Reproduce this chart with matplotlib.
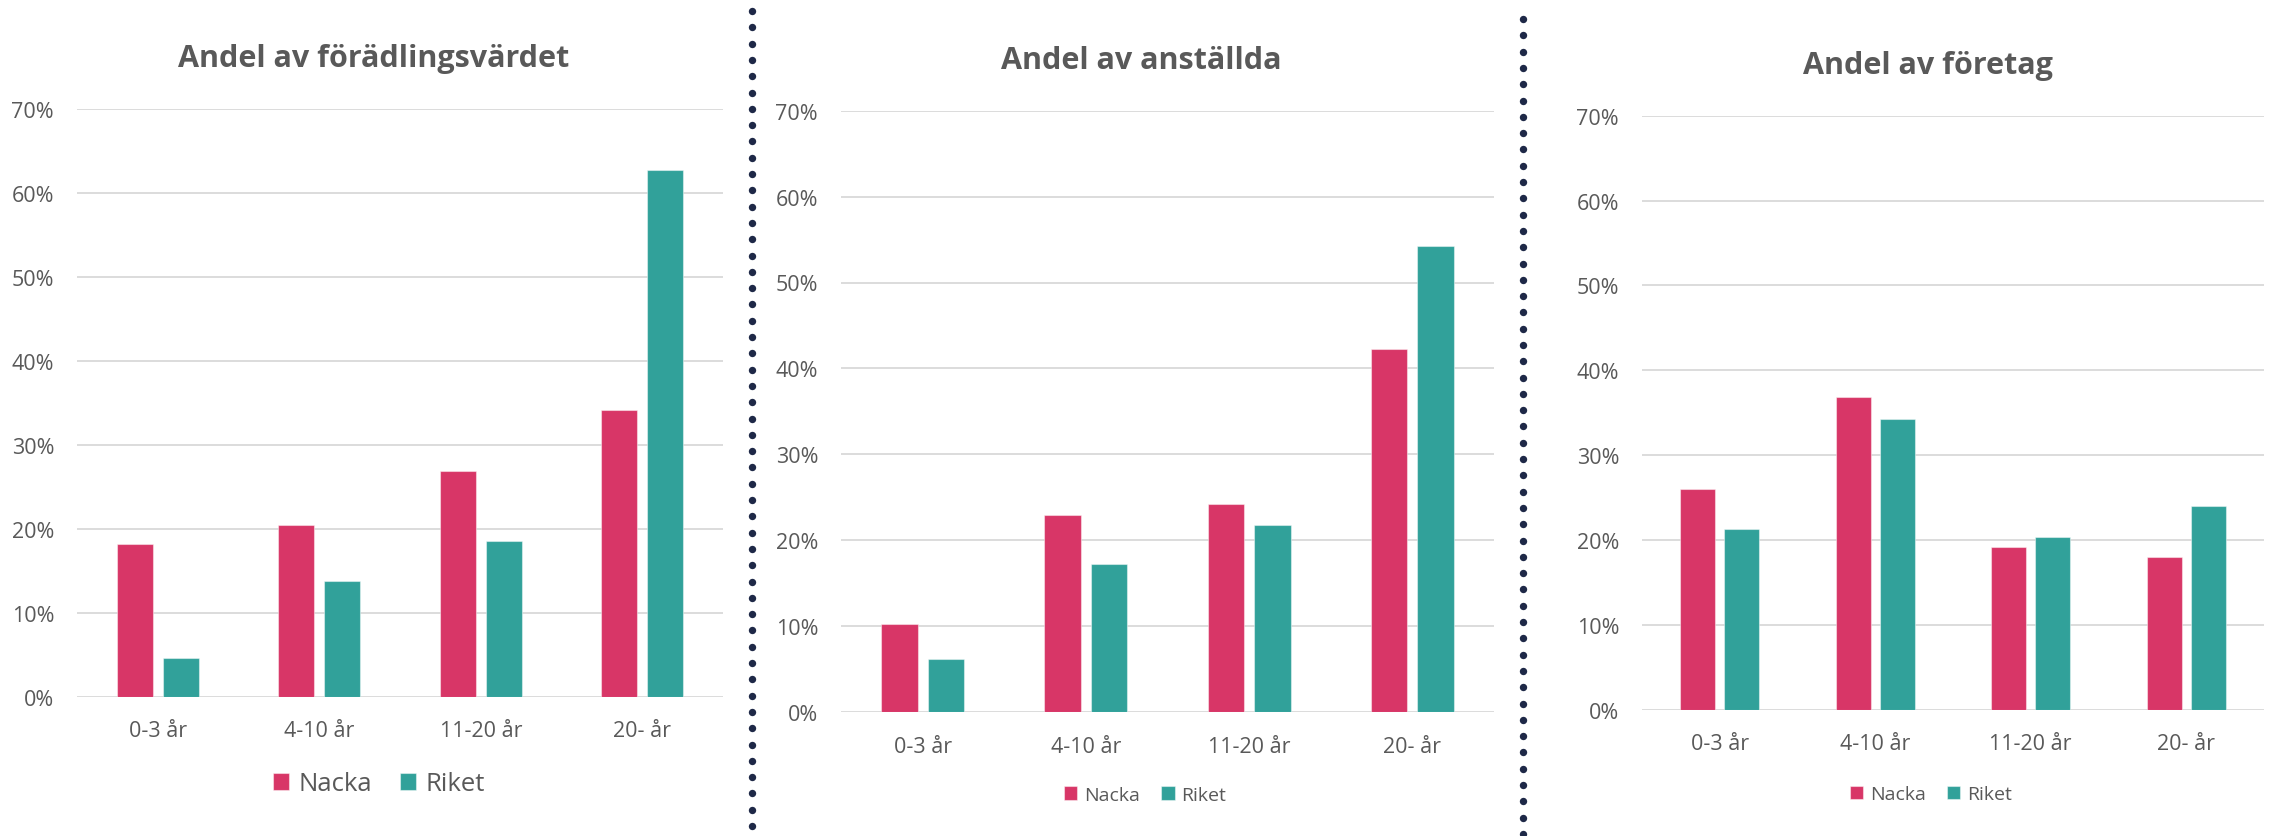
import matplotlib
matplotlib.use("Agg")
import matplotlib.pyplot as plt
from matplotlib.lines import Line2D
from matplotlib.ticker import FuncFormatter, MultipleLocator
import numpy as np

plt.rcParams["font.family"] = ["Open Sans", "DejaVu Sans"]

# Age groups of companies and the two compared series
categories = ["0-3 år", "4-10 år", "11-20 år", "20- år"]
series_names = ["Nacka", "Riket"]

# Share (%) of value added
vardet_nacka = [18.2, 20.5, 26.9, 34.2]
vardet_riket = [4.6, 13.8, 18.6, 62.7]

# Share (%) of employees
anstallda_nacka = [10.2, 22.9, 24.2, 42.3]
anstallda_riket = [6.2, 17.2, 21.8, 54.3]

# Share (%) of companies
foretag_nacka = [26.0, 36.8, 19.2, 18.0]
foretag_riket = [21.3, 34.2, 20.3, 24.0]

titles = ["Andel av förädlingsvärdet", "Andel av anställda", "Andel av företag"]

NACKA_COLOR = "#D83667"
RIKET_COLOR = "#31A19A"
TEXT_COLOR = "#595959"
GRID_COLOR = "#D9D9D9"
DIVIDER_COLOR = "#1E2847"

W, H = 2272, 837
fig = plt.figure(figsize=(W / 100, H / 100), dpi=100)


def px_rect(left, top, right, bottom):
    return [left / W, 1 - bottom / H, (right - left) / W, (bottom - top) / H]


panels = [
    dict(rect=(77, 110, 723, 698), nacka=vardet_nacka, riket=vardet_riket,
         title=titles[0], title_xy=(374, 66.7), legend_xy=(379, 785),
         legend_size=18.5, handle=0.62, xpad=16.5),
    dict(rect=(841, 111.7, 1494, 713), nacka=anstallda_nacka, riket=anstallda_riket,
         title=titles[1], title_xy=(1141, 69), legend_xy=(1145, 796),
         legend_size=14, handle=0.7, xpad=17),
    dict(rect=(1642, 116.7, 2264, 710.7), nacka=foretag_nacka, riket=foretag_riket,
         title=titles[2], title_xy=(1928, 73.6), legend_xy=(1931, 795),
         legend_size=14, handle=0.68, xpad=16.5),
]

bar_w = 0.223
offset = 0.142
x = np.arange(len(categories))

for p in panels:
    ax = fig.add_axes(px_rect(*p["rect"]))
    b1 = ax.bar(x - offset, np.array(p["nacka"]) / 100, bar_w, color=NACKA_COLOR,
                edgecolor=(1, 1, 1, 0.45), linewidth=0.8, zorder=3, label=series_names[0])
    b2 = ax.bar(x + offset, np.array(p["riket"]) / 100, bar_w, color=RIKET_COLOR,
                edgecolor=(1, 1, 1, 0.45), linewidth=0.8, zorder=3, label=series_names[1])

    ax.set_xlim(-0.5, len(categories) - 0.5)
    ax.set_ylim(0, 0.7)
    ax.yaxis.set_major_locator(MultipleLocator(0.1))
    ax.yaxis.set_major_formatter(FuncFormatter(lambda v, _: f"{round(v * 100):d}%"))
    ax.set_xticks(x)
    ax.set_xticklabels(categories)
    ax.grid(axis="y", color=GRID_COLOR, linewidth=1.3, zorder=0)
    ax.set_axisbelow(True)
    for s in ax.spines.values():
        s.set_visible(False)
    ax.tick_params(axis="both", length=0, labelsize=15.5, labelcolor=TEXT_COLOR)
    ax.tick_params(axis="y", pad=16.5)
    ax.tick_params(axis="x", pad=p["xpad"])

    fig.text(p["title_xy"][0] / W, 1 - p["title_xy"][1] / H, p["title"],
             ha="center", va="baseline", fontsize=22, fontweight="bold",
             color=TEXT_COLOR)

    fs = p["legend_size"]
    ax.legend(handles=[b1, b2], loc="center",
              bbox_to_anchor=(p["legend_xy"][0] / W, 1 - p["legend_xy"][1] / H),
              bbox_transform=fig.transFigure, ncol=2, frameon=False,
              fontsize=fs, labelcolor=TEXT_COLOR, handlelength=p["handle"],
              handleheight=p["handle"], handletextpad=0.35, columnspacing=1.1,
              borderpad=0, borderaxespad=0)

# Dotted dividers between the panels, drawn as a column of round dots
dot_step = 16.3
for xd, ytop in [(752, 12), (1523, 20)]:
    ys = np.arange(ytop, H + dot_step, dot_step)
    fig.add_artist(Line2D(np.full_like(ys, xd) / W, 1 - ys / H,
                          transform=fig.transFigure, linestyle="none",
                          marker="o", markersize=5.3, markeredgewidth=0,
                          markerfacecolor=DIVIDER_COLOR))

fig.savefig("out.png", dpi=100, facecolor="white")
